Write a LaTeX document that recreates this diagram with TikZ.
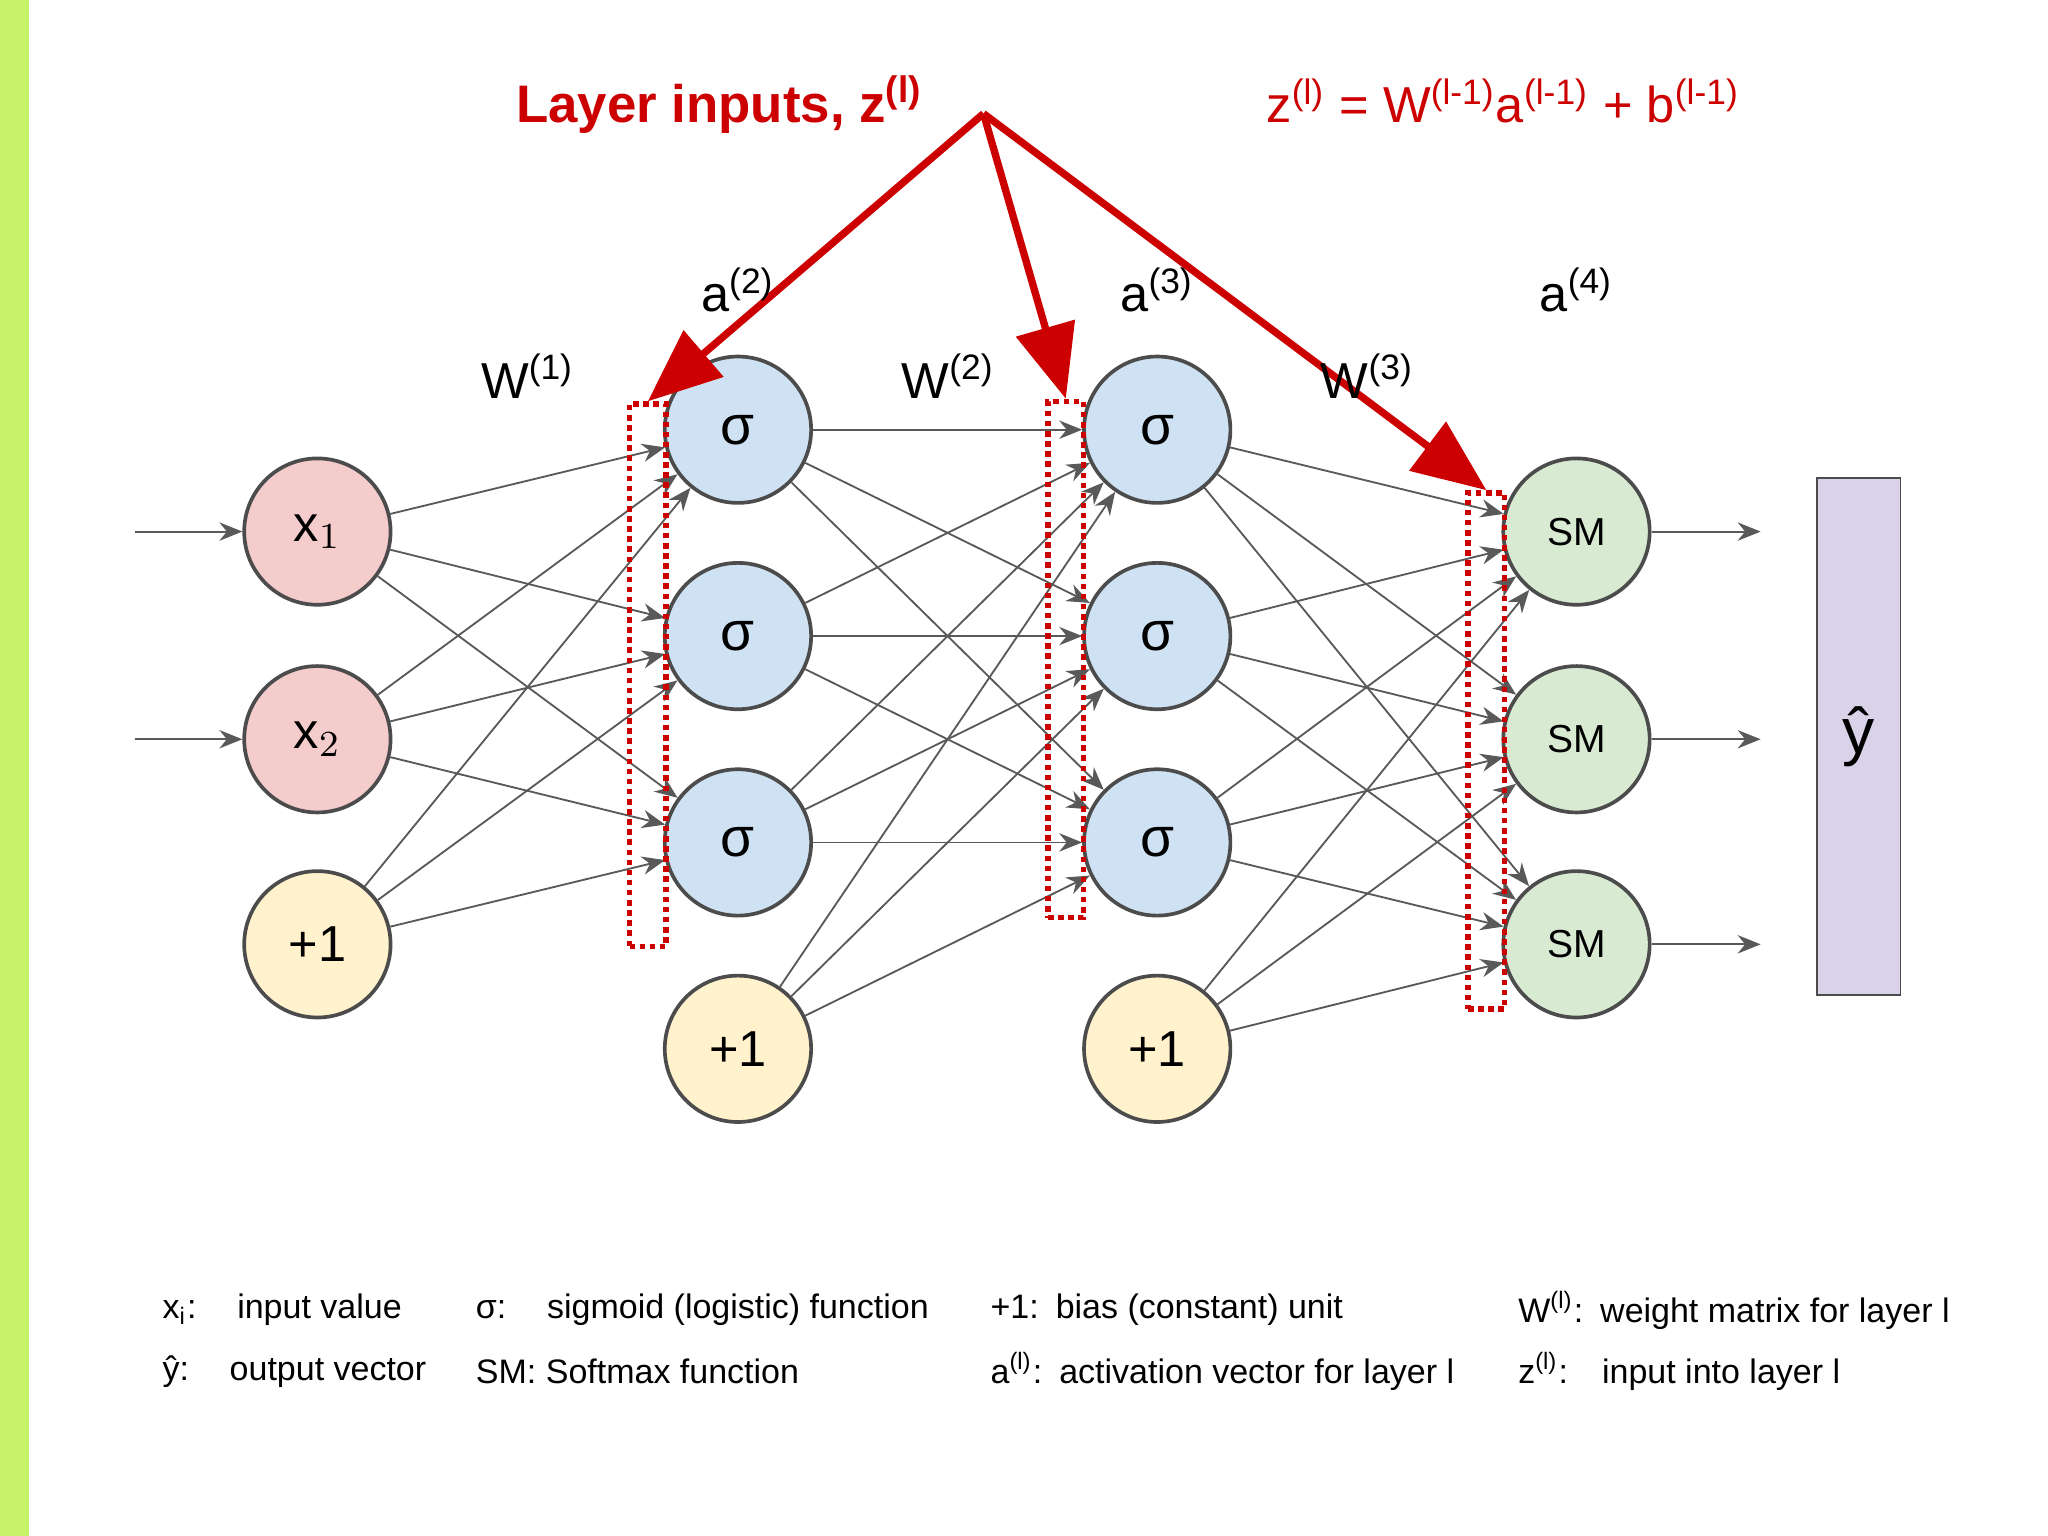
\documentclass[tikz,border=0pt]{standalone}
\usepackage{amsmath}
\usepackage{fontspec}
\setmainfont{Liberation Sans}
\usetikzlibrary{arrows.meta,positioning}
\definecolor{zred}{HTML}{CC0000}
\definecolor{inred}{HTML}{F4CCCC}
\definecolor{sigblue}{HTML}{CFE2F3}
\definecolor{biasyel}{HTML}{FFF2CC}
\definecolor{smgreen}{HTML}{D9EAD3}
\definecolor{outpur}{HTML}{D9D2E9}
\definecolor{barlime}{HTML}{C6F36A}

\begin{document}
\begin{tikzpicture}[x=0.01cm, y=-0.01cm,
    every node/.style={text=black},
    neuron/.style={circle, draw=black!70, thick, minimum size=1.12cm, inner sep=0pt, font=\fontsize{11}{11}\selectfont},
    link/.style={draw=black!65, -{Stealth[length=5pt,width=4pt]}},
    zbox/.style={draw=zred, densely dotted, very thick},
    zarrow/.style={draw=zred, line width=1.6pt, -{Triangle[length=16pt,width=13pt]}},
    lbl/.style={font=\fontsize{11}{11}\selectfont},
    legend/.style={anchor=west, font=\fontsize{7.4}{8}\selectfont},
    ]
  \useasboundingbox (0,0) rectangle (1568,1176);
  \fill[barlime] (0,0) rectangle (22,1176);

  % layer 1
  \node[neuron, fill=inred] (x1) at (243,407) {x$_1$};
  \node[neuron, fill=inred] (x2) at (243,566) {x$_2$};
  \node[neuron, fill=biasyel] (b1) at (243,723) {+1};
  % layers 2 and 3
  \foreach \l/\x in {2/565, 3/886} {
    \foreach \i/\y in {1/329, 2/487, 3/645}
      \node[neuron, fill=sigblue, font=\fontsize{12}{12}\selectfont] (s\l\i) at (\x,\y) {σ};
    \node[neuron, fill=biasyel] (b\l) at (\x,803) {+1};
  }
  % layer 4
  \foreach \i/\y in {1/407, 2/566, 3/723}
    \node[neuron, fill=smgreen, font=\fontsize{8.5}{9}\selectfont] (sm\i) at (1207,\y) {SM};
  \node[draw=black!70, fill=outpur, minimum width=0.64cm, minimum height=3.96cm] (yhat) at (1423,564) {\fontsize{14}{14}\selectfont ŷ};

  % in / out
  \coordinate (in1) at (103,407);
  \coordinate (in2) at (103,566);
  \draw[link] (in1) -- (x1);
  \draw[link] (in2) -- (x2);
  \foreach \i/\y in {1/407, 2/566, 3/723} {
    \coordinate (out\i) at (1348,\y);
    \draw[link] (sm\i) -- (out\i);
  }

  % weights
  \foreach \a in {x1, x2, b1}
    \foreach \j in {1,2,3}
      \draw[link] (\a) -- (s2\j);
  \foreach \a in {s21, s22, s23, b2}
    \foreach \j in {1,2,3}
      \draw[link] (\a) -- (s3\j);
  \foreach \a in {s31, s32, s33, b3}
    \foreach \j in {1,2,3}
      \draw[link] (\a) -- (sm\j);

  % layer inputs
  \node[zbox, minimum width=0.28cm, minimum height=4.15cm] (z2) at (496,517) {};
  \node[zbox, minimum width=0.27cm, minimum height=3.95cm] (z3) at (816,505) {};
  \node[zbox, minimum width=0.28cm, minimum height=3.95cm] (z4) at (1138,575) {};
  \coordinate (apex) at (753,87);
  \draw[zarrow] (apex) -- (z2.north);
  \draw[zarrow] (apex) -- (z3.north);
  \draw[zarrow] (apex) -- (z4.north);

  % labels
  \node[font=\bfseries\fontsize{11.5}{12}\selectfont, text=zred] (ztitle) at (551,80) {Layer inputs, z$^{\textbf{(l)}}$};
  \node[font=\fontsize{11}{12}\selectfont, text=zred] (zform) at (1151,77) {z$^{\text{(l)}}$ = W$^{\text{(l-1)}}$a$^{\text{(l-1)}}$ + b$^{\text{(l-1)}}$};
  \node[lbl] (a2) at (565,222) {a$^{\text{(2)}}$};
  \node[lbl] (a3) at (886,222) {a$^{\text{(3)}}$};
  \node[lbl] (a4) at (1207,222) {a$^{\text{(4)}}$};
  \node[lbl] (w1) at (404,288) {W$^{\text{(1)}}$};
  \node[lbl] (w2) at (726,288) {W$^{\text{(2)}}$};
  \node[lbl] (w3) at (1047,288) {W$^{\text{(3)}}$};

  % legend
  \node[legend] (lx) at (112,1003) {x$_\text{i}$:\hspace{1.2em}input value};
  \node[legend] (ly) at (112,1050) {ŷ:\hspace{1.2em}output vector};
  \node[legend] (ls) at (352,1003) {σ:\hspace{1.2em}sigmoid (logistic) function};
  \node[legend] (lsm) at (352,1050) {SM: Softmax function};
  \node[legend] (lb) at (746,1003) {+1:\hspace{0.5em}bias (constant) unit};
  \node[legend] (la) at (746,1050) {a$^{\text{(l)}}$:\hspace{0.5em}activation vector for layer l};
  \node[legend] (lw) at (1150,1003) {W$^{\text{(l)}}$:\hspace{0.5em}weight matrix for layer l};
  \node[legend] (lz) at (1150,1050) {z$^{\text{(l)}}$:\hspace{1em}input into layer l};
\end{tikzpicture}
\end{document}
